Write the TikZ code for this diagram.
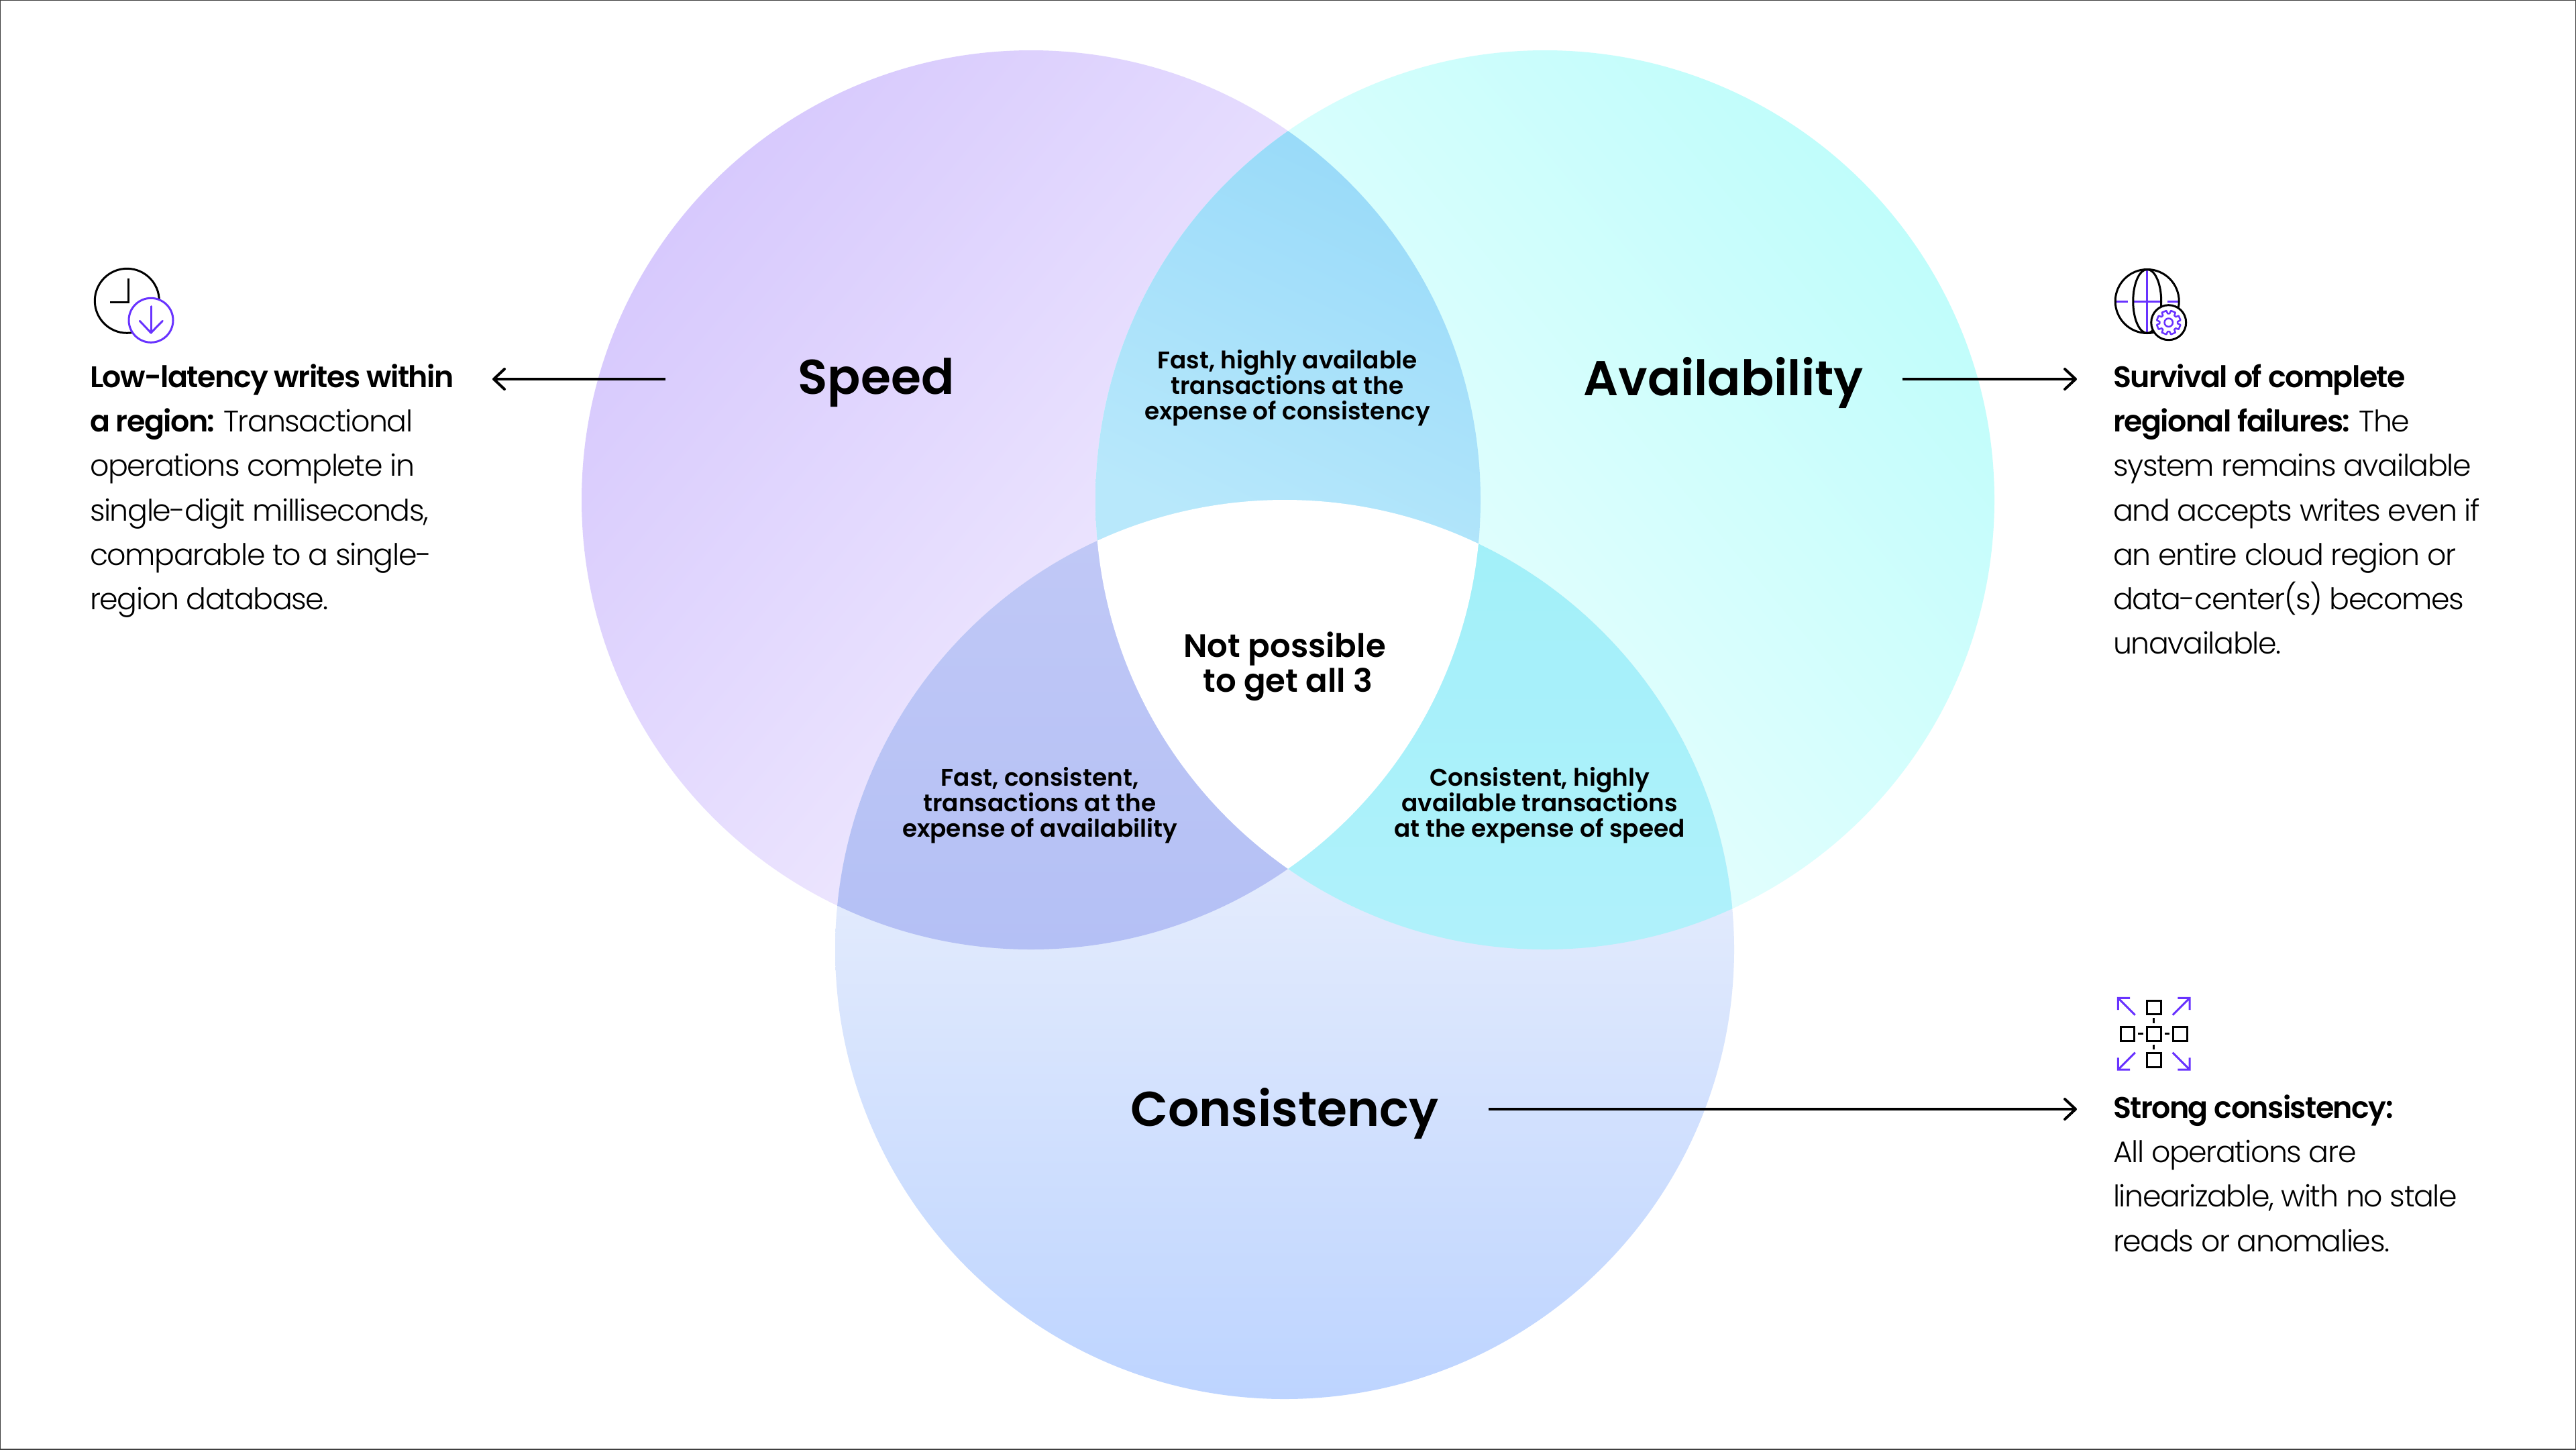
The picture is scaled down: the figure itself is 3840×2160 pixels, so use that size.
\documentclass[tikz,border=0pt]{standalone}
\usepackage{fontspec}
\setmainfont{Poppins}[BoldFont=* SemiBold]
\newfontfamily\bodyfont{Poppins Light}[BoldFont=Poppins SemiBold,LetterSpace=-3.2,BoldFeatures={LetterSpace=-3.5}]
\usetikzlibrary{arrows.meta}
\definecolor{vio}{HTML}{6933FF}
\definecolor{spA}{HTML}{D7C9FD}\definecolor{spB}{HTML}{F8F5FF}
\definecolor{avA}{HTML}{C0FDFB}\definecolor{avB}{HTML}{F4FFFF}
\definecolor{coA}{HTML}{FFFCFB}\definecolor{coB}{HTML}{BDD4FF}
\definecolor{saA}{HTML}{98DAF9}\definecolor{saB}{HTML}{B8E8FB}
\definecolor{scA}{HTML}{C0C8F6}\definecolor{scB}{HTML}{B4C0F5}
\definecolor{acA}{HTML}{A2F0F9}\definecolor{acB}{HTML}{B0F1FB}
\normallineskiplimit=-30pt
\lineskiplimit=-30pt
\tikzset{x=0.01cm,y=0.01cm,
 every node/.style={inner sep=0pt,outer sep=0pt},
 head/.style={font=\bfseries\fontsize{20.7}{25}\selectfont,anchor=center},
 small/.style={font=\bfseries\fontsize{10.2}{10.9}\selectfont,align=center,anchor=center},
 mid/.style={font=\bfseries\fontsize{13.7}{14.6}\selectfont,align=center,anchor=center},
 body/.style={font=\bodyfont\fontsize{12.6}{18.8}\selectfont,align=left,anchor=north west},
 conn/.style={draw=black,line width=0.04cm,-{Straight Barb[length=0.16cm,width=0.3cm,round]}},
 ik/.style={draw=black,line width=0.03cm,line join=miter},
 iv/.style={draw=vio,line width=0.03cm,line cap=round,line join=round},
}
\def\SP{(1537,-745) circle (670)}
\def\AV{(2303,-745) circle (670)}
\def\CO{(1915,-1415) circle (670)}
\begin{document}
\begin{tikzpicture}
\useasboundingbox (0,-2160) rectangle (3840,0);
\fill[white] (0,-2160) rectangle (3840,0);
% circles
\shade[top color=spA,bottom color=spB,shading angle=50] \SP;
\shade[top color=avA,bottom color=avB,shading angle=-50] \AV;
\shade[top color=coA,bottom color=coB] \CO;
% pair overlaps
\begin{scope}\clip \SP; \clip \AV; \shade[top color=saA,bottom color=saB,shading angle=-25] (1633,-190) rectangle (2207,-815); \end{scope}
\begin{scope}\clip \SP; \clip \CO; \shade[top color=scA,bottom color=scB] (1246,-800) rectangle (1920,-1415); \end{scope}
\begin{scope}\clip \AV; \clip \CO; \shade[top color=acA,bottom color=acB] (1910,-800) rectangle (2584,-1415); \end{scope}
\begin{scope}\clip \SP; \clip \AV; \clip \CO; \fill[white] (1500,-600) rectangle (2300,-1400); \end{scope}
% frame
\draw[black!75,line width=0.02cm] (0,-2160) rectangle (3840,0);
% headings
\node[head] (speed) at (1306,-570) {Speed};
\node[head] (avail) at (2569,-570) {Availability};
\node[head] (cons) at (1915,-1659) {Consistency};
\node[mid] (none) at (1915,-993) {Not possible\\\hspace*{0.1cm}to get all 3};
\node[small] (sa) at (1919,-578) {Fast, highly available\\transactions at the\\expense of consistency};
\node[small] (sc) at (1550,-1200) {Fast, consistent,\\transactions at the\\expense of availability};
\node[small] (ac) at (2295,-1200) {Consistent, highly\\available transactions\\at the expense of speed};
% body
\node[body] (t1) at (134,-543) {\textbf{Low-latency writes within}\\\textbf{a region:} Transactional\\operations complete in\\single-digit milliseconds,\\comparable to a single-\\region database.};
\node[body] (t2) at (3150,-543) {\textbf{Survival of complete}\\\textbf{regional failures:} The\\system remains available\\and accepts writes even if\\an entire cloud region or\\data-center(s) becomes\\unavailable.};
\node[body] (t3) at (3150,-1632) {\textbf{Strong consistency:}\\All operations are\\linearizable, with no stale\\reads or anomalies.};
% connectors
\coordinate (s0) at (992,-565); \coordinate (s1) at (734,-565);
\coordinate (a0) at (2836,-565); \coordinate (a1) at (3096,-565);
\coordinate (c0) at (2219,-1653); \coordinate (c1) at (3096,-1653);
\draw[conn] (s0) -- (s1);
\draw[conn] (a0) -- (a1);
\draw[conn] (c0) -- (c1);
% clock icon
\draw[ik] (189.3,-448.3) circle (48);
\draw[ik] (191.7,-415) -- (191.7,-450.7) -- (164,-450.7);
\draw[iv,fill=white] (225,-477.3) circle (33);
\draw[iv] (225,-456.7) -- (225,-496);
\draw[iv] (208.3,-478.3) -- (225,-496) -- (242.3,-478.3);
% globe icon
\draw[iv,line cap=butt] (3200.7,-402) -- (3200.7,-496);
\draw[iv,line cap=butt] (3155,-449) -- (3171.7,-449) (3180.7,-449) -- (3221.7,-449) (3230.7,-449) -- (3247.3,-449);
\draw[ik] (3200.7,-449) circle (47.5);
\draw[ik] (3200.7,-449) ellipse (21 and 47.5);
\draw[ik,fill=white] (3232.7,-480.7) circle (26);
\draw[iv,line width=0.025cm] (3232.7,-480.7) circle (6.2);
\begin{scope}[shift={(3232.7,-480.7)}]
\draw[iv,line width=0.025cm] (11:18) -- (34:18)
 -- (39:13.5) -- (51:13.5) -- (56:18) -- (79:18)
 -- (84:13.5) -- (96:13.5) -- (101:18) -- (124:18)
 -- (129:13.5) -- (141:13.5) -- (146:18) -- (169:18)
 -- (174:13.5) -- (186:13.5) -- (191:18) -- (214:18)
 -- (219:13.5) -- (231:13.5) -- (236:18) -- (259:18)
 -- (264:13.5) -- (276:13.5) -- (281:18) -- (304:18)
 -- (309:13.5) -- (321:13.5) -- (326:18) -- (349:18)
 -- (354:13.5) -- (6:13.5) -- cycle;
\end{scope}
% scale icon
\begin{scope}[shift={(3210.7,-1540.7)}]
\foreach \p/\q in {0/0,0/39.3,0/-39.3,39.3/0,-39.3/0}
  \draw[ik] (\p-10.3,\q-10.3) rectangle (\p+10.3,\q+10.3);
\draw[ik] (0,16) -- (0,23.5) (0,-16) -- (0,-23.5) (16,0) -- (23.5,0) (-16,0) -- (-23.5,0);
\foreach \sx/\sy in {1/1,1/-1,-1/1,-1/-1}
  \draw[iv,line cap=butt,line join=miter] (\sx*28,\sy*28) -- (\sx*53.4,\sy*53.4) (\sx*53.4,\sy*35.7) -- (\sx*53.4,\sy*53.4) -- (\sx*35.7,\sy*53.4);
\end{scope}
\end{tikzpicture}
\end{document}
